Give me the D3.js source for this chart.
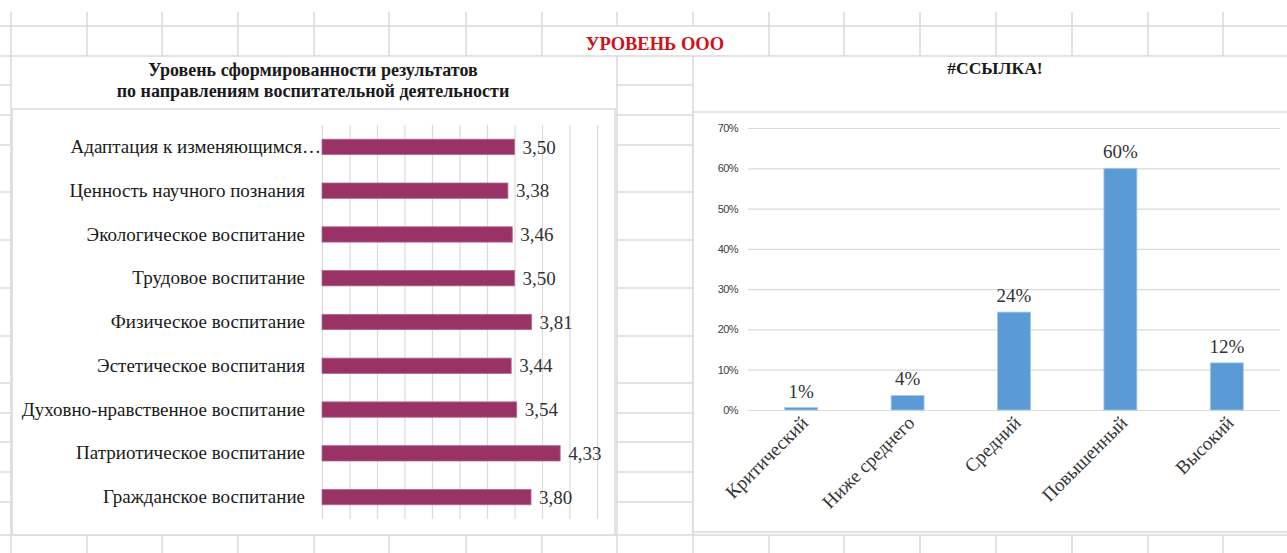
<!DOCTYPE html>
<html>
<head>
<meta charset="utf-8">
<script src="https://cdn.jsdelivr.net/npm/d3@7"></script>
<style>
  body { margin: 0; background: #fff; }
  svg { display: block; }
  .serif { font-family: "Times New Roman", "Liberation Serif", serif; }
</style>
</head>
<body>
<svg id="sheet" width="1287" height="553"></svg>
<script>
// left chart data
const leftCats = [
  "Адаптация к изменяющимся…",
  "Ценность научного познания",
  "Экологическое воспитание",
  "Трудовое воспитание",
  "Физическое воспитание",
  "Эстетическое воспитания",
  "Духовно-нравственное воспитание",
  "Патриотическое воспитание",
  "Гражданское воспитание"
];
const leftVals = [3.50, 3.38, 3.46, 3.50, 3.81, 3.44, 3.54, 4.33, 3.80];
const leftTicks = [0, 0.5, 1, 1.5, 2, 2.5, 3, 3.5, 4, 4.5, 5];

// right chart data
const rightCats = ["Критический", "Ниже среднего", "Средний", "Повышенный", "Высокий"];
const rightVals = [0.006, 0.036, 0.243, 0.600, 0.117];
const rightLabels = ["1%", "4%", "24%", "60%", "12%"];
const rightTicks = [0, 0.1, 0.2, 0.3, 0.4, 0.5, 0.6, 0.7];

const WIDTH = 1287;
const HEIGHT = 553;
const GRID = "#dadada";
const svg = d3.select("#sheet");

/**
 * Draws the spreadsheet cell lines behind the charts.
 */
function drawSheet() {
  const cols = [11, 87, 162, 238, 314, 389, 466, 542, 617, 693, 769, 844, 920, 996, 1072, 1148, 1223];
  const rows = [85, 115, 145, 192, 240, 288, 336, 383, 413, 442, 472, 502];
  const g = svg.append("g").attr("class", "sheet").attr("stroke", GRID).attr("stroke-width", 1.5);

  // header rows
  g.append("line").attr("x1", 0).attr("x2", WIDTH).attr("y1", 26).attr("y2", 26);
  g.append("line").attr("x1", 0).attr("x2", WIDTH).attr("y1", 56).attr("y2", 56);
  g.append("line").attr("x1", 0).attr("x2", WIDTH).attr("y1", 535).attr("y2", 535);

  cols.forEach((x) => {
    g.append("line").attr("x1", x).attr("x2", x).attr("y1", 12).attr("y2", 26);
    // merged title cell skips 617 and 693
    if (x !== 617 && x !== 693) {
      g.append("line").attr("x1", x).attr("x2", x).attr("y1", 26).attr("y2", 56);
    }
    g.append("line").attr("x1", x).attr("x2", x).attr("y1", 535).attr("y2", HEIGHT);
  });

  // left edge and middle column
  g.append("line").attr("x1", 11).attr("x2", 11).attr("y1", 56).attr("y2", 535);
  g.append("line").attr("x1", 617).attr("x2", 617).attr("y1", 56).attr("y2", 535);
  g.append("line").attr("x1", 693).attr("x2", 693).attr("y1", 56).attr("y2", 535);
  rows.forEach((y) => {
    g.append("line").attr("x1", 0).attr("x2", 11).attr("y1", y).attr("y2", y);
    g.append("line").attr("x1", 617).attr("x2", 693).attr("y1", y).attr("y2", y);
  });

  svg.append("text")
    .attr("class", "serif")
    .attr("x", 655)
    .attr("y", 50)
    .attr("text-anchor", "middle")
    .attr("font-size", 18.5)
    .attr("font-weight", "bold")
    .attr("fill", "#d0101a")
    .text("УРОВЕНЬ ООО");
}

/**
 * Horizontal bar chart on the left.
 */
function drawLeftChart() {
  const g = svg.append("g").attr("class", "leftChart");

  g.append("rect")
    .attr("x", 12).attr("y", 109).attr("width", 603).attr("height", 426)
    .attr("fill", "#fff").attr("stroke", GRID).attr("stroke-width", 1.5);

  g.append("text")
    .attr("class", "serif")
    .attr("text-anchor", "middle")
    .attr("font-size", 18)
    .attr("font-weight", "bold")
    .attr("fill", "#1a1a1a")
    .selectAll("tspan")
    .data(["Уровень сформированности результатов", "по направлениям воспитательной деятельности"])
    .enter()
    .append("tspan")
    .attr("x", 313)
    .attr("y", (d, i) => 76 + i * 21)
    .text((d) => d);

  const x = d3.scaleLinear().domain([0, 5]).range([322, 597]);
  const y = d3.scaleBand().domain(leftCats).range([125, 519]).paddingInner(0.65).paddingOuter(0.325);

  // vertical gridlines
  const grid = g.append("g")
    .attr("transform", "translate(0,519)")
    .call(d3.axisBottom(x).tickValues(leftTicks).tickSize(-(519 - 125)).tickFormat(""));
  grid.select(".domain").remove();
  grid.selectAll("line").attr("stroke", GRID).attr("stroke-width", 1.2);

  // category labels
  const yAxis = g.append("g")
    .attr("transform", "translate(322,0)")
    .call(d3.axisLeft(y).tickSize(0).tickPadding(17));
  yAxis.select(".domain").remove();
  yAxis.selectAll("text")
    .attr("class", "serif")
    .attr("font-size", 19)
    .attr("fill", "#1a1a1a")
    .attr("dx", (d) => (d.endsWith("…") ? 16 : 0)); // truncated label runs up to the bars

  g.append("g")
    .selectAll("rect")
    .data(leftVals)
    .enter()
    .append("rect")
    .attr("x", x(0))
    .attr("y", (d, i) => y(leftCats[i]))
    .attr("width", (d) => x(d) - x(0))
    .attr("height", y.bandwidth())
    .attr("fill", "#993366")
    .attr("stroke", "#b5678c")
    .attr("stroke-width", 0.8);

  const fmt = (d) => d3.format(".2f")(d).replace(".", ",");
  g.append("g")
    .selectAll("text")
    .data(leftVals)
    .enter()
    .append("text")
    .attr("class", "serif")
    .attr("x", (d) => x(d) + 8)
    .attr("y", (d, i) => y(leftCats[i]) + y.bandwidth() / 2)
    .attr("dy", "0.35em")
    .attr("font-size", 19)
    .attr("fill", "#333")
    .text(fmt);
}

/**
 * Vertical bar chart on the right.
 */
function drawRightChart() {
  const g = svg.append("g").attr("class", "rightChart");

  g.append("rect")
    .attr("x", 693).attr("y", 112).attr("width", 600).attr("height", 420)
    .attr("fill", "#fff").attr("stroke", GRID).attr("stroke-width", 1.5);

  g.append("text")
    .attr("class", "serif")
    .attr("x", 995)
    .attr("y", 74)
    .attr("text-anchor", "middle")
    .attr("font-size", 17.5)
    .attr("font-weight", "bold")
    .attr("fill", "#1a1a1a")
    .text("#ССЫЛКА!");

  const x = d3.scaleBand().domain(rightCats).range([748, 1280]).paddingInner(0.69).paddingOuter(0.345);
  const y = d3.scaleLinear().domain([0, 0.7]).range([410, 128]);

  const yAxis = g.append("g")
    .attr("transform", "translate(748,0)")
    .call(d3.axisLeft(y).tickValues(rightTicks).tickSize(-(1280 - 748)).tickPadding(10).tickFormat(d3.format(".0%")));
  yAxis.select(".domain").remove();
  yAxis.selectAll("line").attr("stroke", GRID).attr("stroke-width", 1.2);
  yAxis.selectAll("text")
    .attr("font-family", "'Liberation Sans Narrow', 'Liberation Sans', sans-serif")
    .attr("font-size", 11)
    .attr("letter-spacing", "-0.6px")
    .attr("fill", "#404040");

  g.append("g")
    .selectAll("rect")
    .data(rightVals)
    .enter()
    .append("rect")
    .attr("x", (d, i) => x(rightCats[i]))
    .attr("y", (d) => y(d))
    .attr("width", x.bandwidth())
    .attr("height", (d) => y(0) - y(d))
    .attr("fill", "#5b9bd5")
    .attr("stroke", "#a9c9ea")
    .attr("stroke-width", 0.8);

  g.append("g")
    .selectAll("text")
    .data(rightVals)
    .enter()
    .append("text")
    .attr("class", "serif")
    .attr("x", (d, i) => x(rightCats[i]) + x.bandwidth() / 2)
    .attr("y", (d) => y(d) - 10)
    .attr("text-anchor", "middle")
    .attr("font-size", 19)
    .attr("fill", "#333")
    .text((d, i) => rightLabels[i]);

  g.append("g")
    .selectAll("text")
    .data(rightCats)
    .enter()
    .append("text")
    .attr("class", "serif")
    .attr("transform", (d) => `translate(${x(d) + x.bandwidth() / 2 + 8},${424}) rotate(-45)`)
    .attr("text-anchor", "end")
    .attr("font-size", 19)
    .attr("fill", "#333")
    .text((d) => d);
}

drawSheet();
drawLeftChart();
drawRightChart();
</script>
</body>
</html>
